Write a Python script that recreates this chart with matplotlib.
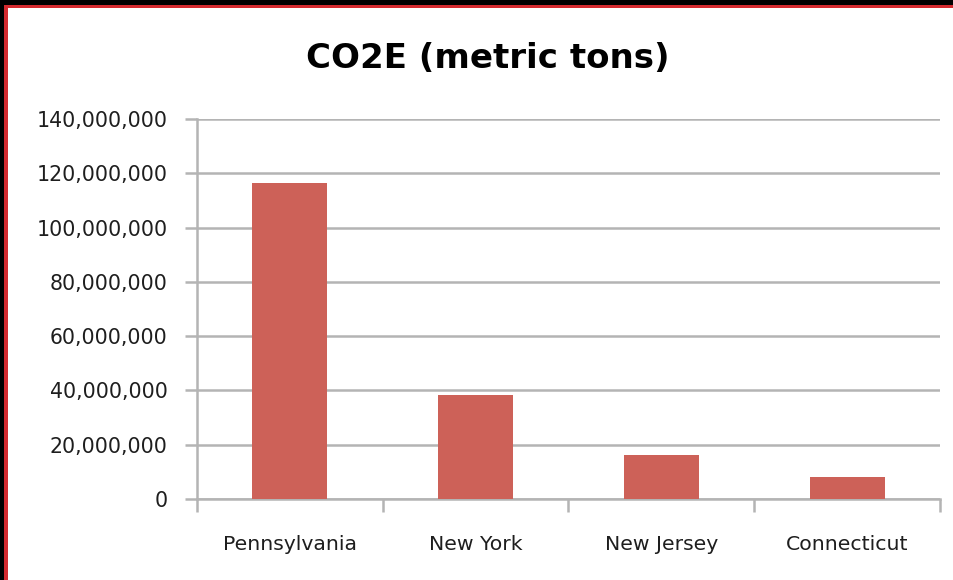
import matplotlib
matplotlib.use("Agg")
import matplotlib.pyplot as plt
from matplotlib.ticker import FuncFormatter, FixedLocator
from matplotlib.patches import Rectangle

states = ["Pennsylvania", "New York", "New Jersey", "Connecticut"]
co2e_tons = [116_500_000, 38_300_000, 16_200_000, 8_100_000]
y_ticks = [0, 20_000_000, 40_000_000, 60_000_000, 80_000_000,
           100_000_000, 120_000_000, 140_000_000]

plt.rcParams["font.family"] = ["DejaVu Sans"]

W, H = 954, 580
fig = plt.figure(figsize=(W / 100, H / 100), dpi=100)
fig.patch.set_facecolor("white")

# dark outer frame with a red edge along the top and left
fig.add_artist(Rectangle((0, 1 - 5 / H), 1, 5 / H, transform=fig.transFigure,
                         facecolor="black", edgecolor="none", zorder=0))
fig.add_artist(Rectangle((0, 0), 4 / W, 1, transform=fig.transFigure,
                         facecolor="black", edgecolor="none", zorder=0))
fig.add_artist(Rectangle((4 / W, 1 - 8 / H), 1, 3 / H, transform=fig.transFigure,
                         facecolor="#d42a2f", edgecolor="none", zorder=0))
fig.add_artist(Rectangle((4 / W, 0), 4 / W, 1 - 5 / H, transform=fig.transFigure,
                         facecolor="#d42a2f", edgecolor="none", zorder=0))

ax = fig.add_axes([197 / W, 1 - 499 / H, (940 - 197) / W, (499 - 119) / H])
ax.set_facecolor("none")

x = list(range(len(states)))
ax.bar(x, co2e_tons, width=0.405, color="#cd6158", zorder=3)

ax.set_xlim(-0.5, len(states) - 0.5)
ax.set_ylim(0, 140_000_000)
ax.set_yticks(y_ticks)
ax.yaxis.set_major_formatter(FuncFormatter(lambda v, p: f"{int(v):,}"))
ax.grid(axis="y", color="#b4b4b4", linewidth=1.8, zorder=1)
ax.set_axisbelow(True)

ax.set_xticks(x)
ax.set_xticklabels(states)
ax.xaxis.set_minor_locator(FixedLocator([i - 0.5 for i in range(len(states) + 1)]))
ax.tick_params(axis="x", which="major", length=0, pad=26, labelsize=14.7,
               labelcolor="#1e1e1e")
ax.tick_params(axis="x", which="minor", length=9, width=1.8, color="#b4b4b4")
ax.tick_params(axis="y", length=9, width=1.8, color="#b4b4b4", pad=12,
               labelsize=14.8, labelcolor="#1e1e1e")

for side in ("top", "right"):
    ax.spines[side].set_visible(False)
for side in ("left", "bottom"):
    ax.spines[side].set_color("#b4b4b4")
    ax.spines[side].set_linewidth(1.8)

fig.text(488 / W, 1 - 68 / H, "CO2E (metric tons)", ha="center",
         va="baseline", fontsize=24.5, fontweight="bold", color="black")

fig.savefig("out.png", dpi=100, facecolor=fig.get_facecolor())
